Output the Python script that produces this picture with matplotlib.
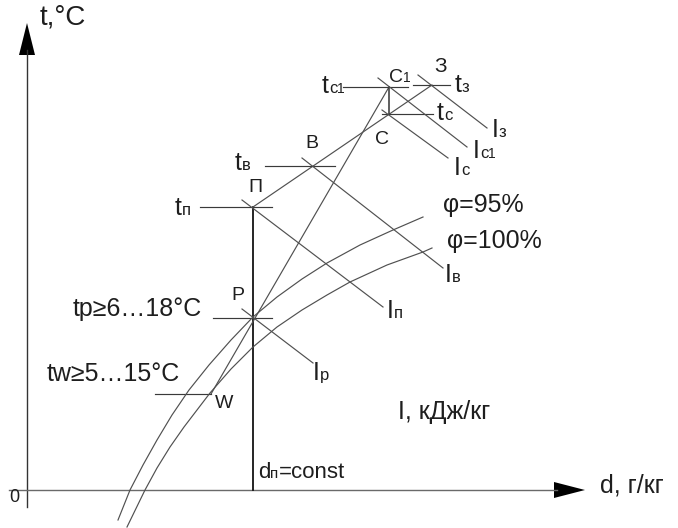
import matplotlib
matplotlib.use("Agg")
import matplotlib.pyplot as plt
from matplotlib import transforms

plt.rcParams['font.family'] = ['Liberation Sans', 'DejaVu Sans']

# ---- data (d, t) in chart units; origin at axis crossing ----
point_names = ["П", "Р", "В", "С", "С1", "З", "W"]
point_d = [226, 226, 289, 362, 362, 405, 184]
point_t = [283, 172, 325, 376, 403, 405, 96]

# isotherm segments: d_start, d_end, t
iso_names = ["tС1", "tЗ", "tС", "tВ", "tП", "tР", "tW"]
iso_d0 = [316, 386, 355, 238, 173, 186, 128]
iso_d1 = [381, 423, 406, 308, 245, 245, 184]
iso_t = [403, 405, 376, 324, 283, 172, 96]

# isenthalp segments
ent_names = ["Iр", "Iп", "Iв", "Ic", "Ic1", "IЗ"]
ent_d0 = [215, 215, 275, 355, 351, 391]
ent_t0 = [181, 290, 332, 380, 412, 415]
ent_d1 = [286, 356, 416, 421, 440, 460]
ent_t1 = [127, 183, 222, 332, 343, 362]

# relative humidity curves
phi95_d = [91, 103, 116, 130, 145, 162, 182, 204, 226, 250, 275, 300, 333, 366, 396]
phi95_t = [-30, 0, 25, 50, 75, 100, 125, 150, 173, 193, 211, 227, 245, 260, 273]
phi100_d = [100, 118, 130, 143, 157, 170, 183, 204, 226, 250, 275, 300, 323, 360, 396, 405]
phi100_t = [-37, 0, 22, 43, 63, 80, 97, 121, 143, 163, 180, 195, 208, 225, 238, 242]

fig = plt.figure(figsize=(6.78, 5.28), dpi=100)
ax = fig.add_axes([0, 0, 1, 1])
ax.set_xlim(-27, 651)
ax.set_ylim(-38, 490)
ax.axis('off')

LC = '#505050'
LW = 0.85

# axes
ax.plot([0, 0], [-17, 440], color='#333333', lw=1.0)
ax.plot([-18, 530], [0, 0], color='#6a6a6a', lw=1.0)
ax.fill([-8, 8, 0], [435, 435, 467], color='black', lw=0)
ax.fill([527, 527, 558], [-8, 8, 0], color='black', lw=0)

P = dict(zip(point_names, zip(point_d, point_t)))
# d_п = const vertical line
ax.plot([P["П"][0], P["П"][0]], [0, P["П"][1]], color='black', lw=1.2)

# process lines
ax.plot([P["W"][0], P["С1"][0]], [P["W"][1], P["С1"][1]], color=LC, lw=LW)
ax.plot([P["П"][0], P["З"][0]], [P["П"][1], P["З"][1]], color=LC, lw=LW)
ax.plot([P["С"][0], P["С1"][0]], [P["С"][1], P["С1"][1]], color='#333333', lw=1.1)

for d0, d1, t in zip(iso_d0, iso_d1, iso_t):
    ax.plot([d0, d1], [t, t], color='#3a3a3a', lw=LW)
for d0, t0, d1, t1 in zip(ent_d0, ent_t0, ent_d1, ent_t1):
    ax.plot([d0, d1], [t0, t1], color=LC, lw=LW)

ax.plot(phi95_d, phi95_t, color=LC, lw=LW, solid_joinstyle='round')
ax.plot(phi100_d, phi100_t, color=LC, lw=LW, solid_joinstyle='round')

TC = '#1e1e1e'
renderer = fig.canvas.get_renderer()


def label(x, y, parts):
    t = ax.text(x, y, parts[0][0], fontsize=parts[0][1], ha='left',
                va='baseline', color=TC)
    off = t.get_window_extent(renderer).width
    for s, size in parts[1:]:
        tr = transforms.offset_copy(ax.transData, fig=fig, x=off, y=0,
                                    units='dots')
        tt = ax.text(x, y, s, fontsize=size, ha='left', va='baseline',
                     color=TC, transform=tr)
        off += tt.get_window_extent(renderer).width


MAIN = 18
SUB = 12
SS = 10

label(148, 275, [("t", MAIN), ("п", SUB)])
label(208, 320, [("t", MAIN), ("в", SUB)])
label(295, 397, [("t", MAIN), ("c", SUB), ("1", SS)])
label(428, 398, [("t", MAIN), ("з", SUB)])
label(410, 370, [("t", MAIN), ("c", SUB)])
label(465, 353, [("I", MAIN), ("з", SUB)])
label(446, 332, [("I", MAIN), ("c", SUB), ("1", SS)])
label(427, 315, [("I", MAIN), ("c", SUB)])
label(418, 208, [("I", MAIN), ("в", SUB)])
label(360, 172, [("I", MAIN), ("п", SUB)])
label(286, 110, [("I", MAIN), ("p", SUB)])
label(231, 12, [("d", 16), ("п", 11), ("=const", 16)])
label(362, 408, [("С", 14), ("1", 10)])

PL = 14
ax.text(228, 303, "П", fontsize=PL, ha='center', va='center', color=TC)
ax.text(285, 347, "В", fontsize=PL, ha='center', va='center', color=TC)
ax.text(355, 350, "С", fontsize=PL, ha='center', va='center', color=TC)
ax.text(414, 424, "З", fontsize=15, ha='center', va='center', color=TC)
ax.text(211, 194, "Р", fontsize=PL, ha='center', va='center', color=TC)
ax.text(197, 87, "W", fontsize=PL, ha='center', va='center', color=TC)

ax.text(13, 472, "t,°C", fontsize=20, ha='left', va='center', color=TC)
ax.text(573, 5, "d, г/кг", fontsize=18, ha='left', va='center', color=TC)
ax.text(-13, -8, "0", fontsize=13, ha='center', va='center', color=TC)
ax.text(371, 78, "I, кДж/кг", fontsize=18, ha='left', va='center', color=TC)
ax.text(416, 285, "φ=95%", fontsize=18, ha='left', va='center', color=TC)
ax.text(420, 249, "φ=100%", fontsize=18, ha='left', va='center', color=TC)
ax.text(46, 181, "tp≥6…18°C", fontsize=18, ha='left', va='center', color=TC)
ax.text(153, 116, "tw≥5…15°C", fontsize=18, ha='right', va='center', color=TC)

fig.savefig("out.png", dpi=100)
